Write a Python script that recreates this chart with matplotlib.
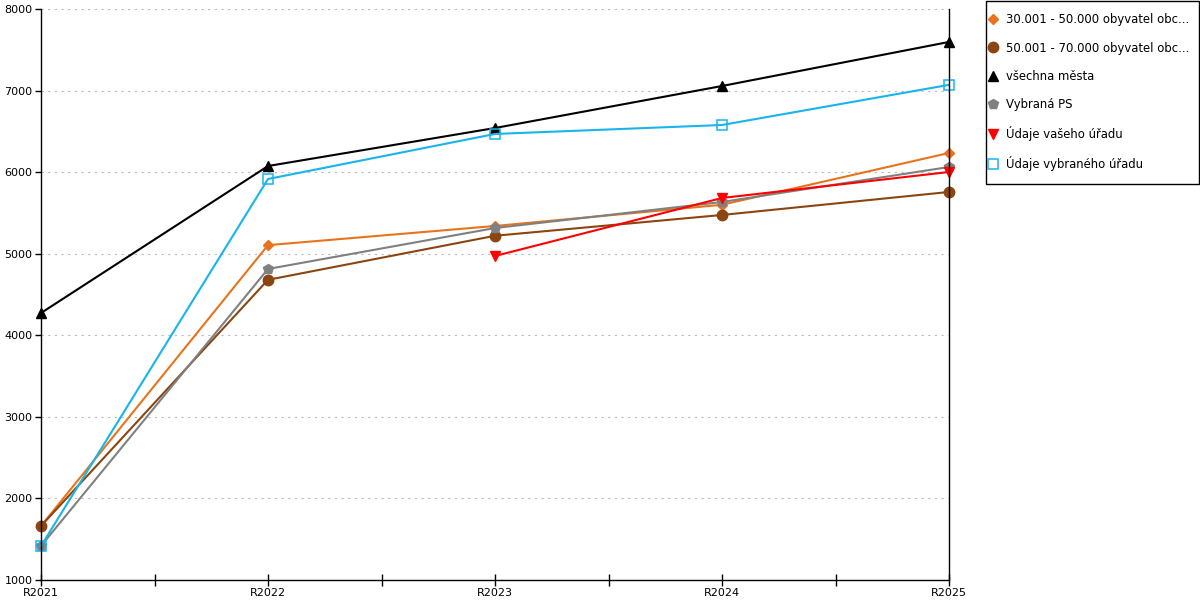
import numpy as np
import matplotlib
matplotlib.use('agg')
import matplotlib.pyplot as plt
from matplotlib.patches import Rectangle

years = ['R2021', 'R2022', 'R2023', 'R2024', 'R2025']

labels = ['30.001 - 50.000 obyvatel obc...',
          '50.001 - 70.000 obyvatel obc...',
          'všechna města',
          'Vybraná PS',
          'Údaje vašeho úřadu',
          'Údaje vybraného úřadu']

orange = [1662, 5105, 5340, 5600, 6235]
brown = [1662, 4680, 5220, 5475, 5757]
vsechna = [4273, 6075, 6541, 7056, 7596]
vybrana_ps = [1417, 4813, 5315, 5634, 6063]
vaseho = [np.nan, np.nan, 4972, 5683, 6002]
vybraneho = [1417, 5916, 6468, 6578, 7070]

series = [orange, brown, vsechna, vybrana_ps, vaseho, vybraneho]
colors = ['#E8731C', '#8B4510', '#000000', '#808080', '#FF0000', '#18B4EC']
markers = ['D', 'o', '^', 'p', 'v', 's']
msizes = [5.5, 7.5, 7.5, 7.5, 7.5, 7]

plt.rcParams['font.family'] = 'DejaVu Sans'
plt.rcParams['font.size'] = 8

fig = plt.figure(figsize=(12, 6), dpi=100)
ax = fig.add_axes([41/1200, 20/600, 908/1200, 571/600])

x = np.arange(len(years))
for vals, c, m, ms, lab in zip(series, colors, markers, msizes, labels):
    if m == 's':
        ax.plot(x, vals, color=c, lw=1.5, marker=m, ms=ms, mfc='none', mec=c, mew=1.1,
                label=lab, clip_on=False)
    else:
        ax.plot(x, vals, color=c, lw=1.5, marker=m, ms=ms, mec=c, label=lab, clip_on=False)

ax.set_xlim(0, 4)
ax.set_ylim(1000, 8000)
ax.set_yticks(np.arange(1000, 8001, 1000))
ax.set_xticks(x)
ax.set_xticklabels(years)
ax.set_xticks(np.arange(0.5, 4, 1), minor=True)
ax.tick_params(axis='x', which='both', direction='inout', length=8, width=1, pad=2)
ax.tick_params(axis='y', direction='out', length=4, width=1, pad=2)
ax.yaxis.grid(True, linestyle=(0, (2, 4)), color='#bbbbbb', lw=0.8)
ax.set_axisbelow(True)
ax.spines['top'].set_visible(False)
for s in ['left', 'bottom', 'right']:
    ax.spines[s].set_color('black')
    ax.spines[s].set_linewidth(1)

# legend box drawn separately so the entries can sit where the original has them
fig.patches.append(Rectangle((985.5/1200, (600-183.5)/600), 213/1200, 182.5/600,
                             transform=fig.transFigure, fill=False, ec='black', lw=1))

handles = []
for c, m, ms, lab in zip(colors, markers, msizes, labels):
    if m == 's':
        h = plt.Line2D([], [], ls='none', marker=m, ms=ms, mfc='white', mec=c, mew=1.1, label=lab)
    else:
        h = plt.Line2D([], [], ls='none', marker=m, ms=ms, color=c, label=lab)
    handles.append(h)
leg = fig.legend(handles=handles, loc='upper left',
                 bbox_to_anchor=(989.5/1200, (600-13.4)/600),
                 frameon=False, fontsize=8.4, labelspacing=1.30, handlelength=0.6,
                 handletextpad=0.8, borderpad=0, borderaxespad=0)

fig.savefig('out.png', dpi=100)
